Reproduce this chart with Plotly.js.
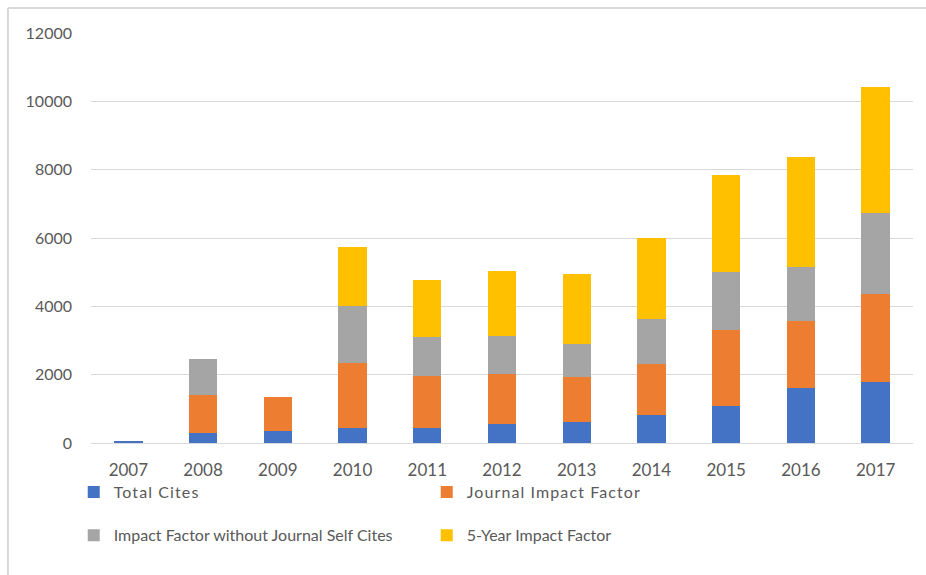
<!DOCTYPE html>
<html>
<head>
<meta charset="utf-8">
<script src="https://cdn.plot.ly/plotly-3.0.1.min.js"></script>
<style>
html,body{margin:0;padding:0;background:#fff;}
#chart{width:926px;height:575px;}
#chart .legendtext{letter-spacing:1.1px;}
</style>
</head>
<body>
<div id="chart"></div>
<script>
const years = ['2007','2008','2009','2010','2011','2012','2013','2014','2015','2016','2017'];
const totalCites = [60, 300, 350, 430, 430, 560, 620, 820, 1070, 1600, 1800];
const journalIF = [0, 1110, 990, 1900, 1520, 1460, 1320, 1500, 2240, 1980, 2570];
const ifNoSelf = [0, 1040, 0, 1690, 1150, 1120, 960, 1300, 1690, 1570, 2360];
const fiveYearIF = [0, 0, 0, 1730, 1660, 1880, 2050, 2380, 2850, 3220, 3680];
const yTicks = [0, 2000, 4000, 6000, 8000, 10000, 12000];

const seriesNames = ['Total Cites', 'Journal Impact Factor', 'Impact Factor without Journal Self Cites', '5-Year Impact Factor'];
const seriesValues = [totalCites, journalIF, ifNoSelf, fiveYearIF];
const colors = ['#4472C4', '#ED7D31', '#A5A5A5', '#FFC000'];
const legendIds = ['legend', 'legend', 'legend2', 'legend2'];

const traces = seriesNames.map((n, i) => ({
  type: 'bar',
  name: n,
  x: years,
  y: seriesValues[i],
  marker: {color: colors[i]},
  legend: legendIds[i],
  hoverinfo: 'x+y+name'
}));

const fontFam = 'Lato, "Open Sans", sans-serif';
const legendCommon = {
  orientation: 'h',
  traceorder: 'normal',
  xanchor: 'left',
  yanchor: 'middle',
  x: -0.021,
  entrywidth: 308,
  entrywidthmode: 'pixels',
  itemwidth: 30,
  font: {family: fontFam, size: 16, color: '#595959'},
  bgcolor: 'rgba(0,0,0,0)'
};

const layout = {
  width: 926,
  height: 575,
  margin: {l: 91, r: 13, t: 33, b: 132},
  paper_bgcolor: '#ffffff',
  plot_bgcolor: '#ffffff',
  barmode: 'stack',
  bargap: 0.62,
  showlegend: true,
  font: {family: fontFam, size: 16, color: '#595959'},
  xaxis: {
    type: 'category',
    showgrid: false,
    showline: true,
    linecolor: '#d9d9d9',
    linewidth: 1,
    ticks: '',
    ticklabelstandoff: 12,
    tickfont: {family: fontFam, size: 17, color: '#595959'},
    zeroline: false
  },
  yaxis: {
    range: [0, 12000],
    tickvals: yTicks,
    ticktext: yTicks.map(String),
    showgrid: true,
    gridcolor: '#d9d9d9',
    gridwidth: 1,
    zeroline: false,
    showline: false,
    ticks: '',
    ticklabelstandoff: 18,
    tickfont: {family: fontFam, size: 16, color: '#595959'}
  },
  legend: Object.assign({}, legendCommon, {y: -0.12}),
  legend2: Object.assign({}, legendCommon, {y: -0.225}),
  shapes: [
    {type: 'line', xref: 'paper', yref: 'paper', x0: -0.101, x1: 1.2, y0: 1.061, y1: 1.061,
     line: {color: '#d9d9d9', width: 2}},
    {type: 'line', xref: 'paper', yref: 'paper', x0: -0.101, x1: -0.101, y0: 1.061, y1: -0.5,
     line: {color: '#d9d9d9', width: 2}}
  ]
};

Plotly.newPlot('chart', traces, layout, {displayModeBar: false, staticPlot: true});
</script>
</body>
</html>
